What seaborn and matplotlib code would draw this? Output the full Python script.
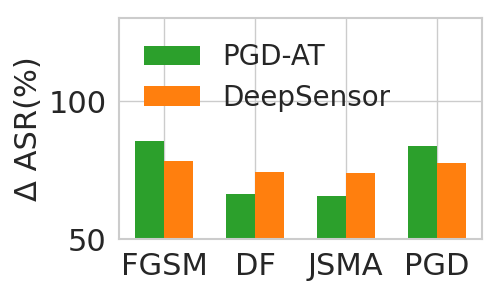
import pandas as pd
import matplotlib.pyplot as plt
import seaborn as sns

attacks = ["FGSM", "DF", "JSMA", "PGD"]
pgd_at = [85.6, 66.4, 65.7, 83.8]
deepsensor = [78.4, 74.4, 74.0, 77.6]

sns.set_theme(style="whitegrid")
plt.rcParams['font.family'] = ['DejaVu Sans']

df = pd.DataFrame({
    "attack": attacks * 2,
    "asr": pgd_at + deepsensor,
    "method": ["PGD-AT"] * 4 + ["DeepSensor"] * 4,
})

fig, ax = plt.subplots(figsize=(5, 3), dpi=100)
sns.barplot(data=df, x="attack", y="asr", hue="method", ax=ax,
            palette=["#2ca02c", "#ff7f0e"], width=0.64, gap=0, saturation=1,
            linewidth=0)

ax.set_ylim(50, 130)
ax.set_yticks([50, 100])
ax.set_xlim(-0.5, 3.5)
ax.set_xlabel("")
ax.set_ylabel("Δ ASR(%)", fontsize=22)
ax.tick_params(axis="both", labelsize=22, pad=3)
ax.grid(True, axis="both", color="#cccccc", linewidth=1)
ax.set_axisbelow(True)
for s in ax.spines.values():
    s.set_color("#cccccc")
    s.set_linewidth(1.5)

ax.legend(loc="upper left", frameon=False, fontsize=20, handlelength=2.0,
          handleheight=0.7, borderaxespad=0.5, labelspacing=0.45,
          handletextpad=0.8)

plt.subplots_adjust(left=0.238, right=0.964, top=0.94, bottom=0.202)
plt.savefig("out.png", dpi=100)
